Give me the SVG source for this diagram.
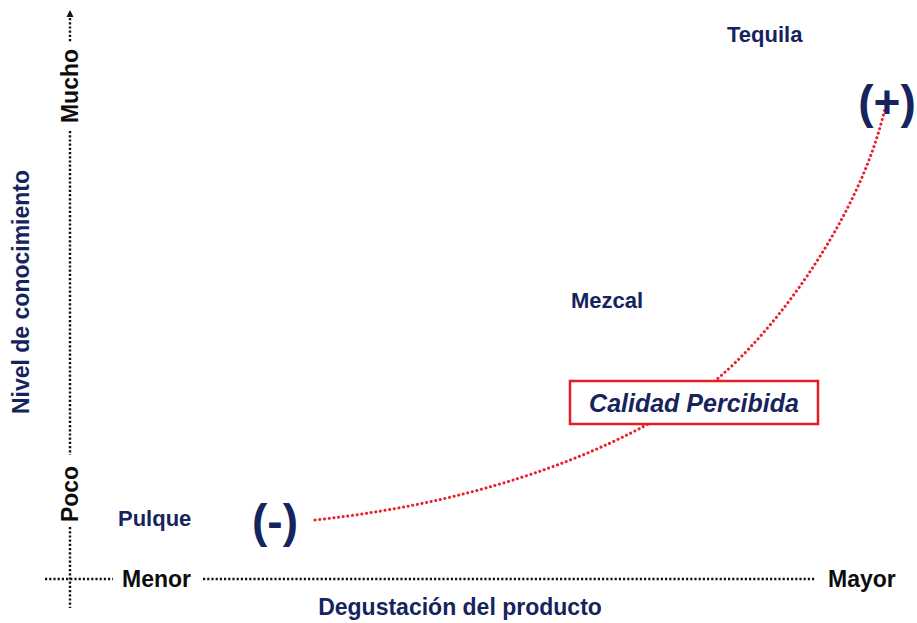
<svg xmlns="http://www.w3.org/2000/svg" width="917" height="623" viewBox="0 0 917 623">
<style>
  .t { font-family: "Liberation Sans", Arial, sans-serif; font-weight: bold; }
  .navy { fill: #16245e; font-size: 22px; }
  .blk { fill: #0d0d0d; font-size: 23px; }
  .sign { fill: #16245e; font-size: 46px; }
  .axis { stroke: #111111; stroke-width: 2.4; stroke-dasharray: 2.2 2; fill: none; }
  .curve { stroke: #e8202a; stroke-width: 3; stroke-dasharray: 0.1 4.6; stroke-linecap: round; fill: none; }
</style>
<rect width="917" height="623" fill="#ffffff"/>
<g id="connectors">
  <path class="curve" d="M315,520 C500,500 620,445 692,398 S860,220 885,108"/>
</g>
<g id="y-axis">
  <line class="axis" x1="70" y1="18" x2="70" y2="43"/>
  <polygon points="70,10 66.5,17 73.5,17" fill="#111111"/>
  <line class="axis" x1="70" y1="131" x2="70" y2="455"/>
  <line class="axis" x1="70" y1="527" x2="70" y2="608"/>
  <text class="t blk" transform="translate(78,86) rotate(-90)" text-anchor="middle">Mucho</text>
  <text class="t blk" transform="translate(78,494) rotate(-90)" text-anchor="middle">Poco</text>
  <text class="t navy" transform="translate(29,292) rotate(-90)" text-anchor="middle" style="font-size:23px">Nivel de conocimiento</text>
</g>
<g id="x-axis">
  <line class="axis" x1="45" y1="579" x2="113" y2="579"/>
  <line class="axis" x1="203" y1="579" x2="815" y2="579"/>
  <text class="t blk" x="122" y="587">Menor</text>
  <text class="t blk" x="828" y="587">Mayor</text>
  <text class="t navy" x="460" y="615" text-anchor="middle" style="font-size:23px">Degustación del producto</text>
</g>
<g id="tequila"><text class="t navy" x="727" y="42">Tequila</text></g>
<g id="mezcal"><text class="t navy" x="571" y="308">Mezcal</text></g>
<g id="pulque"><text class="t navy" x="118" y="526">Pulque</text></g>
<g id="minus"><text class="t sign" x="275" y="537" text-anchor="middle">(-)</text></g>
<g id="plus"><text class="t sign" x="887" y="118" text-anchor="middle">(+)</text></g>
<g id="calidad">
  <rect x="570" y="381" width="248" height="43" fill="#ffffff" stroke="#e31e24" stroke-width="2.5"/>
  <text class="t" x="694" y="412" text-anchor="middle" style="font-size:25px;font-style:italic;fill:#16245e">Calidad Percibida</text>
</g>
</svg>
